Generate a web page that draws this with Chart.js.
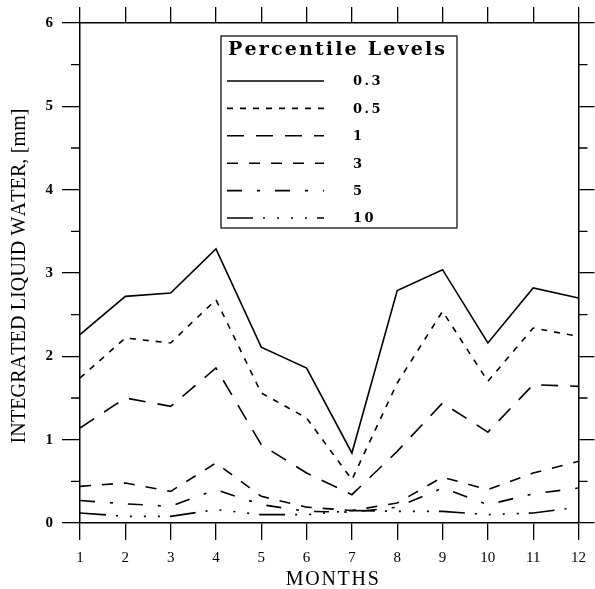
<!DOCTYPE html>
<html>
<head>
<meta charset="utf-8">
<script src="https://cdn.jsdelivr.net/npm/chart.js@4.4.1/dist/chart.umd.min.js"></script>
<style>
html,body{margin:0;padding:0;background:#fff;}
canvas{display:block;}
</style>
</head>
<body>
<canvas id="c" width="595" height="589"></canvas>
<script>
// ---- data ----
const months = [1, 2, 3, 4, 5, 6, 7, 8, 9, 10, 11, 12];
const levelLabels = ['0.3', '0.5', '1', '3', '5', '10'];
const p03 = [2.26, 2.72, 2.76, 3.29, 2.11, 1.86, 0.84, 2.79, 3.04, 2.16, 2.82, 2.70];
const p05 = [1.74, 2.22, 2.16, 2.68, 1.56, 1.26, 0.52, 1.68, 2.54, 1.70, 2.34, 2.24];
const p1  = [1.14, 1.50, 1.40, 1.86, 0.94, 0.60, 0.34, 0.86, 1.44, 1.09, 1.66, 1.64];
const p3  = [0.44, 0.48, 0.38, 0.72, 0.32, 0.19, 0.15, 0.24, 0.55, 0.40, 0.60, 0.74];
const p5  = [0.27, 0.23, 0.20, 0.40, 0.22, 0.14, 0.13, 0.19, 0.42, 0.22, 0.35, 0.42];
const p10 = [0.12, 0.08, 0.08, 0.16, 0.10, 0.10, 0.15, 0.14, 0.14, 0.10, 0.12, 0.19];
const xTickLabels = ['1','2','3','4','5','6','7','8','9','10','11','12'];
const yTickLabels = ['0','1','2','3','4','5','6'];
const xTitle = 'MONTHS';
const yTitle = 'INTEGRATED LIQUID WATER, [mm]';
const legendTitle = 'Percentile Levels';

const series = [p03, p05, p1, p3, p5, p10];
const dashes = [
  [],
  [6, 7],
  [17, 12],
  [11, 11],
  [15, 15, 3, 15],
  [26, 10, 2, 12, 2, 12, 2, 12, 2, 10]
];

const SERIF = '"Liberation Serif", "Times New Roman", serif';
const WIDE = '"DejaVu Serif", serif';

function drawSpaced(ctx, text, x, y, target, align) {
  const ws = [...text].map(ch => ctx.measureText(ch).width);
  const sum = ws.reduce((a, b) => a + b, 0);
  const gap = text.length > 1 ? (target - sum) / (text.length - 1) : 0;
  let cx = align === 'center' ? x - target / 2 : x;
  ctx.textAlign = 'left';
  [...text].forEach((ch, i) => { ctx.fillText(ch, cx, y); cx += ws[i] + gap; });
}
function drawGap(ctx, text, x, y, gap) {
  let cx = x;
  ctx.textAlign = 'left';
  for (const ch of text) { ctx.fillText(ch, cx, y); cx += ctx.measureText(ch).width + gap; }
}

const decor = {
  id: 'decor',
  afterDraw(chart) {
    const ctx = chart.ctx;
    const ca = chart.chartArea;
    const ys = chart.scales.y;
    ctx.save();
    ctx.strokeStyle = '#000';
    ctx.fillStyle = '#000';
    ctx.lineWidth = 1.3;
    for (let v = ys.min + 0.5; v < ys.max; v += 1) {
      const py = ys.getPixelForValue(v);
      ctx.beginPath();
      ctx.moveTo(ca.left - 9, py); ctx.lineTo(ca.left, py);
      ctx.moveTo(ca.right, py); ctx.lineTo(ca.right + 9, py);
      ctx.stroke();
    }
    ctx.font = '20px ' + SERIF;
    ctx.textBaseline = 'alphabetic';
    drawSpaced(ctx, xTitle, (ca.left + ca.right) / 2 + 3, 585, 93, 'center');
    ctx.save();
    ctx.translate(25, 276);
    ctx.rotate(-Math.PI / 2);
    drawSpaced(ctx, yTitle, 0, 0, 335, 'center');
    ctx.restore();

    const bx = 221, by = 36, bw = 236, bh = 192;
    ctx.fillStyle = '#fff';
    ctx.fillRect(bx, by, bw, bh);
    ctx.lineWidth = 1.2;
    ctx.strokeRect(bx, by, bw, bh);
    ctx.fillStyle = '#000';
    ctx.font = 'bold 19px ' + WIDE;
    drawSpaced(ctx, legendTitle, 228, 55, 217, 'left');
    ctx.font = 'bold 13px ' + WIDE;
    ctx.textBaseline = 'middle';
    chart.data.datasets.forEach((ds, i) => {
      const ly = 81 + i * 27.4;
      ctx.save();
      ctx.lineWidth = 1.6;
      ctx.setLineDash(ds.borderDash || []);
      ctx.beginPath();
      ctx.moveTo(227, ly); ctx.lineTo(324, ly);
      ctx.stroke();
      ctx.restore();
      drawGap(ctx, ds.label, 353, ly + 1, 2.5);
    });
    ctx.restore();
  }
};

const ctx = document.getElementById('c').getContext('2d');
new Chart(ctx, {
  type: 'line',
  data: {
    datasets: series.map((vals, i) => ({
      label: levelLabels[i],
      data: months.map((m, j) => ({ x: m, y: vals[j] })),
      borderColor: '#000',
      borderWidth: 1.6,
      borderDash: dashes[i],
      pointRadius: 0,
      tension: 0,
      fill: false
    }))
  },
  options: {
    responsive: false,
    animation: false,
    devicePixelRatio: 1,
    layout: { padding: 0 },
    plugins: { legend: { display: false }, tooltip: { enabled: false } },
    scales: {
      x: {
        type: 'linear', position: 'bottom', min: 1, max: 12,
        afterFit: s => { s.height = 66; },
        border: { display: true, color: '#000', width: 1.5 },
        grid: { display: true, drawOnChartArea: false, drawTicks: true, tickLength: 17, color: '#000', lineWidth: 1.3 },
        ticks: { stepSize: 1, padding: 9, color: '#000', font: { family: SERIF, size: 15 },
                 callback: (v) => xTickLabels[months.indexOf(v)] ?? '' }
      },
      x2: {
        type: 'linear', position: 'top', min: 1, max: 12,
        afterFit: s => { s.height = 23; },
        border: { display: true, color: '#000', width: 1.5 },
        grid: { display: true, drawOnChartArea: false, drawTicks: true, tickLength: 16, color: '#000', lineWidth: 1.3 },
        ticks: { stepSize: 1, display: false }
      },
      y: {
        type: 'linear', position: 'left', min: 0, max: 6,
        afterFit: s => { s.width = 80; },
        border: { display: true, color: '#000', width: 1.5 },
        grid: { display: true, drawOnChartArea: false, drawTicks: true, tickLength: 18, color: '#000', lineWidth: 1.3 },
        ticks: { stepSize: 1, padding: 9, color: '#000', font: { family: SERIF, size: 15, weight: 'bold' },
                 callback: (v) => yTickLabels[v] ?? '' }
      },
      y2: {
        type: 'linear', position: 'right', min: 0, max: 6,
        afterFit: s => { s.width = 16; },
        border: { display: true, color: '#000', width: 1.5 },
        grid: { display: true, drawOnChartArea: false, drawTicks: true, tickLength: 16, color: '#000', lineWidth: 1.3 },
        ticks: { stepSize: 1, display: false }
      }
    }
  },
  plugins: [decor]
});
</script>
</body>
</html>
